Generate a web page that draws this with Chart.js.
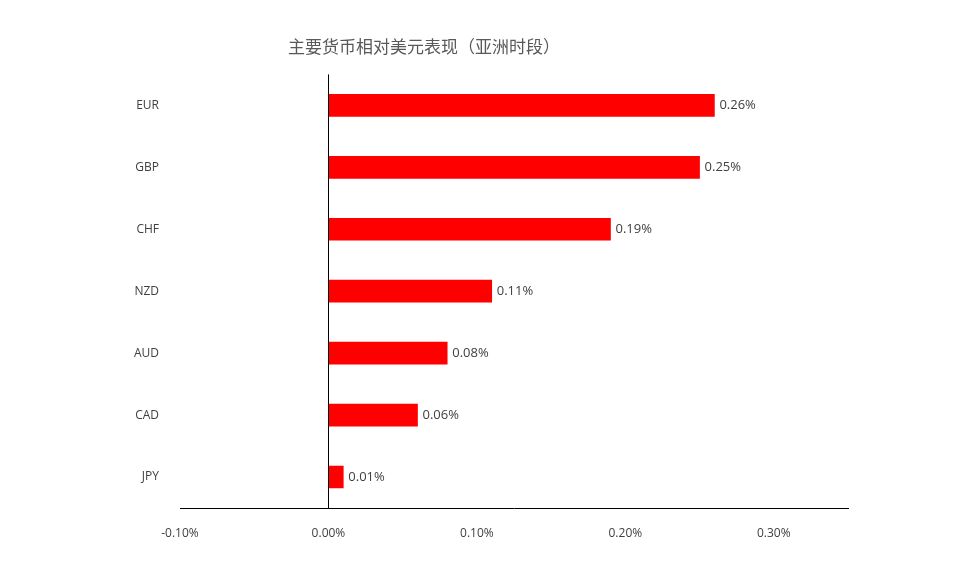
<!DOCTYPE html>
<html>
<head>
<meta charset="utf-8">
<script src="https://cdn.jsdelivr.net/npm/chart.js@4"></script>
<style>body{margin:0;background:#fff}</style>
</head>
<body>
<canvas id="c" width="978" height="571"></canvas>
<script>
const currencies = ['EUR', 'GBP', 'CHF', 'NZD', 'AUD', 'CAD', 'JPY'];
const changes = [0.26, 0.25, 0.19, 0.11, 0.08, 0.06, 0.01];
const tickValues = [-0.1, 0, 0.1, 0.2, 0.3];

// bar end labels plus the zero line
const labelPlugin = {
  id: 'labels',
  afterDatasetsDraw(chart) {
    const ctx = chart.ctx;
    const x = chart.scales.x;
    const area = chart.chartArea;
    ctx.save();
    ctx.strokeStyle = '#000';
    ctx.lineWidth = 1;
    const zx = Math.round(x.getPixelForValue(0)) + 0.5;
    ctx.beginPath(); ctx.moveTo(zx, area.top); ctx.lineTo(zx, area.bottom); ctx.stroke();
    ctx.font = '13px "Open Sans", sans-serif';
    ctx.fillStyle = '#404040';
    ctx.textBaseline = 'middle';
    chart.getDatasetMeta(0).data.forEach((bar, i) => {
      ctx.fillText(changes[i].toFixed(2) + '%', bar.x + 5, bar.y);
    });
    ctx.restore();
  }
};

new Chart(document.getElementById('c'), {
  type: 'bar',
  data: { labels: currencies, datasets: [{ data: changes, backgroundColor: '#ff0000', barThickness: 22 }] },
  options: {
    indexAxis: 'y',
    responsive: false,
    animation: false,
    layout: { padding: { left: 0, right: 130, top: 0, bottom: 0 } },
    plugins: {
      legend: { display: false },
      tooltip: { enabled: false },
      title: { display: true, text: '主要货币相对美元表现（亚洲时段）', color: '#595959',
        font: { size: 17, family: '"Noto Sans CJK SC", sans-serif', weight: 'normal' },
        padding: { top: 36, bottom: 18 } }
    },
    scales: {
      x: {
        min: -0.1, max: 0.35,
        grid: { display: false },
        border: { display: true, color: '#000' },
        afterBuildTicks: s => { s.ticks = tickValues.map(v => ({ value: v })); },
        afterFit: s => { s.height = 63; },
        ticks: { color: '#404040', padding: 10, font: { size: 12, family: '"Open Sans", sans-serif' },
          callback: v => v.toFixed(2) + '%' }
      },
      y: {
        grid: { display: false },
        border: { display: false },
        afterFit: s => { s.width = 180; },
        ticks: { color: '#404040', padding: 13, font: { size: 12, family: '"Open Sans", sans-serif' } }
      }
    }
  },
  plugins: [labelPlugin]
});
</script>
</body>
</html>
